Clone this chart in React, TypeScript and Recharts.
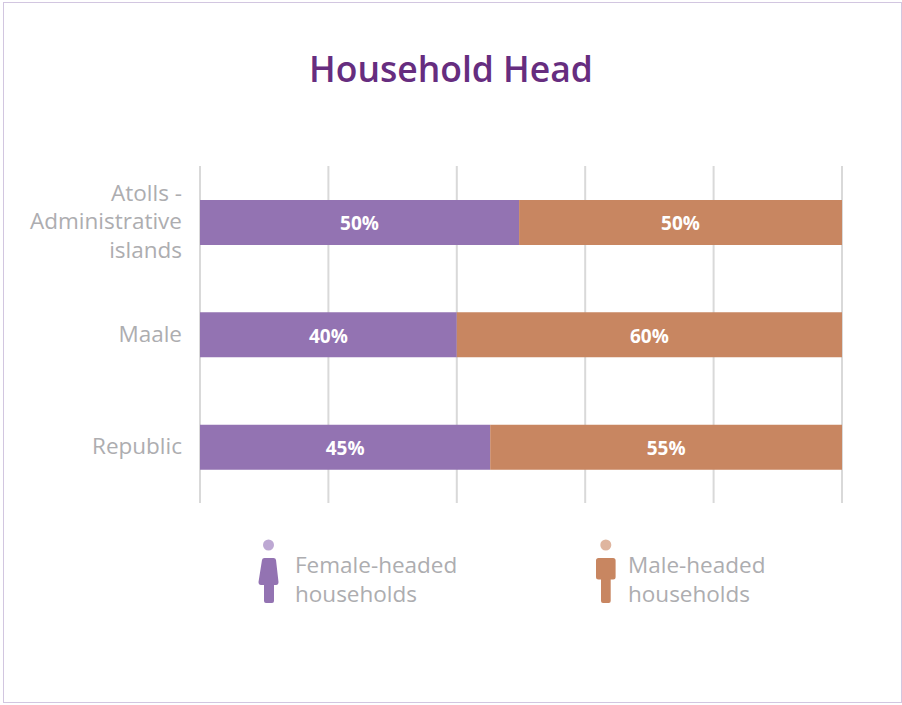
import React from "react";
import { BarChart, Bar, XAxis, YAxis, CartesianGrid, LabelList, Legend } from "recharts";

const categories = ["Atolls - Administrative islands", "Maale", "Republic"];
const categoryLines: string[][] = [["Atolls -", "Administrative", "islands"], ["Maale"], ["Republic"]];
const femaleValues = [0.497, 0.4, 0.452];
const maleValues = [0.503, 0.6, 0.548];
const xTicks = [0, 0.2, 0.4, 0.6, 0.8, 1];
const legendLabels = [["Female-headed", "households"], ["Male-headed", "households"]];

const tableData = categories.map((c, i) => ({ category: c, lines: categoryLines[i], female: femaleValues[i], male: maleValues[i] }));

const FONT = '"Open Sans", sans-serif';
const PURPLE = "#9373b2";
const BROWN = "#c88661";
const TEXT = "#adadb0";
const TEXT_SIZE = 22.5;

const CategoryTick = (props: any) => {
  const { y, payload } = props;
  const lines = categoryLines[categories.indexOf(payload.value)] || [payload.value];
  const lh = 28.5;
  const top = y - ((lines.length - 1) * lh) / 2;
  return (
    <text x={182} y={top} textAnchor="end" fontFamily={FONT} fontSize={TEXT_SIZE} fill={TEXT}>
      {lines.map((l, i) => (
        <tspan key={l} x={182} y={top + i * lh} dy={7}>{l}</tspan>
      ))}
    </text>
  );
};

const EmptyTick = () => <g />;

const FemaleIcon = () => (
  <svg width={22} height={66} style={{ display: "block" }}>
    <circle cx={10.5} cy={6} r={5.5} fill="#bda8d3" />
    <path d="M4 21 Q4.3 19 6.5 19 H15.5 Q17.7 19 18 21 L20.5 43 Q20.5 46 18 46 H16 V62 Q16 64 14 64 H8 Q6 64 6 62 V46 H3 Q0.5 46 0.5 43 Z" fill={PURPLE} />
  </svg>
);
const MaleIcon = () => (
  <svg width={22} height={66} style={{ display: "block" }}>
    <circle cx={9.8} cy={6} r={5.5} fill="#dfb59f" />
    <path d="M2.5 19 H17.1 Q19.6 19 19.6 21.5 V38 Q19.6 40.5 17.1 40.5 H14.7 V62 Q14.7 64 12.7 64 H7 Q5 64 5 62 V40.5 H2.5 Q0 40.5 0 38 V21.5 Q0 19 2.5 19 Z" fill={BROWN} />
  </svg>
);

const LegendContent = () => {
  const items = [
    { left: 258, textLeft: 295, Icon: FemaleIcon, lines: legendLabels[0] },
    { left: 596, textLeft: 628, Icon: MaleIcon, lines: legendLabels[1] },
  ];
  return (
    <div style={{ position: "relative", width: 902, height: 70 }}>
      {items.map((it) => (
        <React.Fragment key={it.lines[0]}>
          <div style={{ position: "absolute", left: it.left, top: 0 }}><it.Icon /></div>
          <div style={{ position: "absolute", left: it.textLeft, top: 11, fontFamily: FONT, fontSize: TEXT_SIZE, lineHeight: "29px", color: TEXT, whiteSpace: "nowrap" }}>
            {it.lines.map((l) => <div key={l}>{l}</div>)}
          </div>
        </React.Fragment>
      ))}
    </div>
  );
};

const pct = (v: any) => `${Math.round(Number(v) * 100)}%`;
const labelStyle = { fill: "#ffffff", fontFamily: FONT, fontSize: 19, fontWeight: 700 };

export default function App() {
  return (
    <div style={{ position: "absolute", left: 0, top: 0, width: 902, height: 705, background: "#fff", overflow: "hidden" }}>
      <div style={{ position: "absolute", left: 3, top: 2, width: 897, height: 699, border: "1px solid #d2c6e0" }} />
      <div style={{ position: "absolute", left: 0, right: 0, top: 44, textAlign: "center", fontFamily: FONT, fontSize: 35.5, fontWeight: 600, lineHeight: "48px", color: "#662d7f" }}>
        Household Head
      </div>
      <div style={{ position: "absolute", left: 0, top: 0 }}>
        <BarChart width={902} height={705} data={tableData} layout="vertical" barSize={45} barGap={0}
          margin={{ top: 166, right: 60, bottom: 132, left: 0 }}>
          <CartesianGrid horizontal={false} stroke="#d9d9d9" strokeWidth={2} />
          <XAxis type="number" domain={[0, 1]} ticks={xTicks} tick={<EmptyTick />} tickLine={false} axisLine={false} height={0} />
          <YAxis type="category" dataKey="category" width={200} axisLine={false} tickLine={false} tick={<CategoryTick />} interval={0} />
          <Legend verticalAlign="bottom" content={<LegendContent />} wrapperStyle={{ left: 0, top: 539, bottom: "auto", width: 902 }} />
          <Bar dataKey="female" stackId="a" fill={PURPLE} isAnimationActive={false}>
            <LabelList dataKey="female" position="center" formatter={pct} style={labelStyle} dy={1} />
          </Bar>
          <Bar dataKey="male" stackId="a" fill={BROWN} isAnimationActive={false}>
            <LabelList dataKey="male" position="center" formatter={pct} style={labelStyle} dy={1} />
          </Bar>
        </BarChart>
      </div>
    </div>
  );
}
